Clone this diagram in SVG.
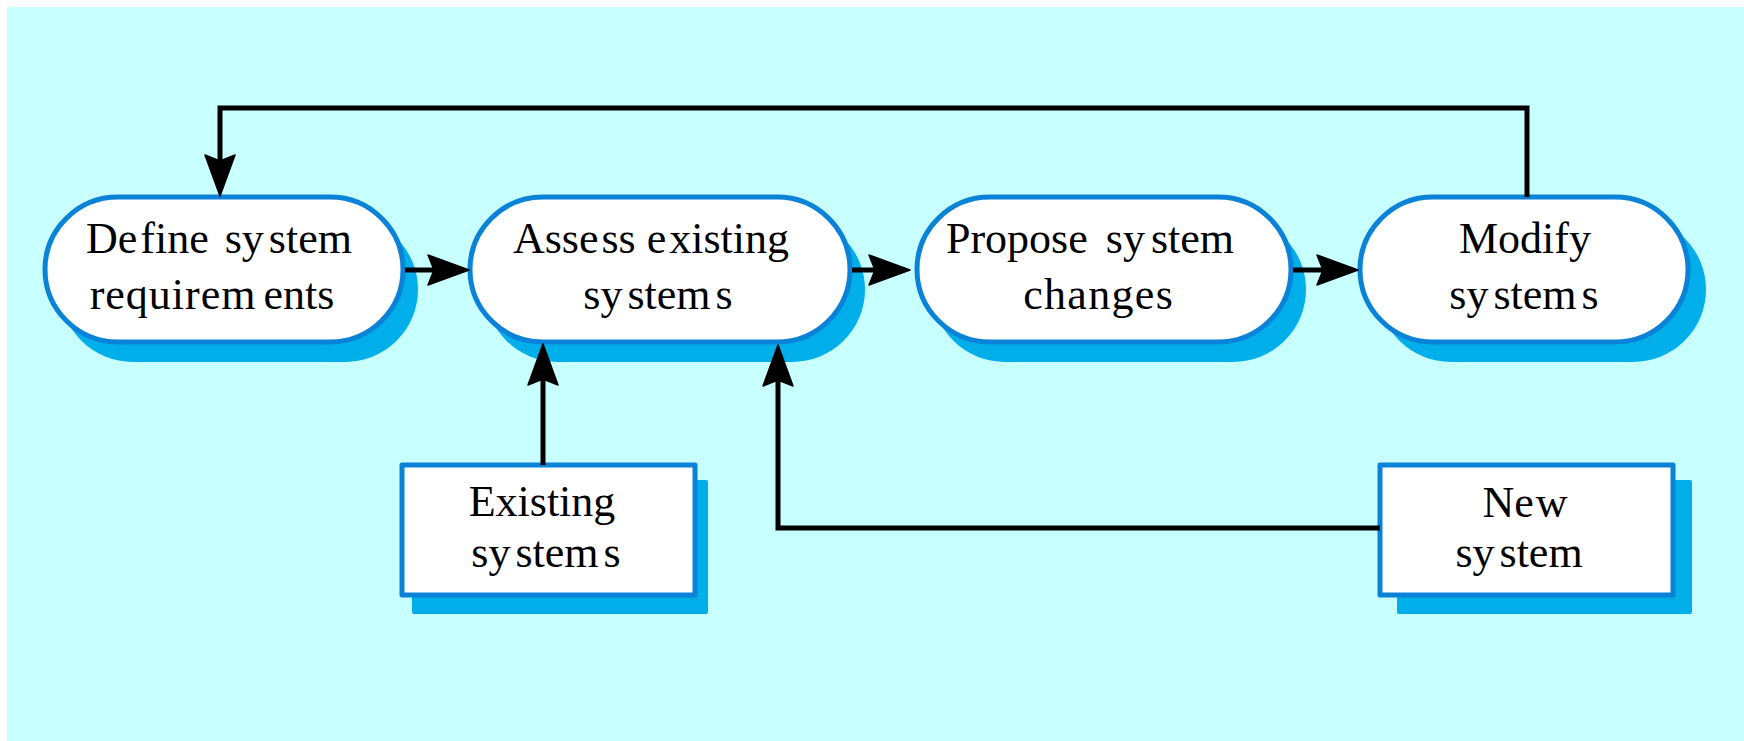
<svg xmlns="http://www.w3.org/2000/svg" width="1744" height="741" viewBox="0 0 1744 741">
  <style>
    .shadow { fill: #00AEEA; stroke: none; }
    .box { fill: #FFFFFF; stroke: #0A82D8; stroke-width: 5; stroke-linejoin: round; }
    .label { font-family: "Liberation Serif", "Times New Roman", serif; font-size: 44px; fill: #000000; text-anchor: middle; }
    .link { fill: none; stroke: #000000; stroke-width: 5; stroke-linejoin: miter; }
  </style>
  <defs>
    <marker id="arrow" markerUnits="userSpaceOnUse" viewBox="-32 -18 48 36" refX="0" refY="0" markerWidth="48" markerHeight="36" orient="auto">
      <path d="M13,0 L-28,-15 L-22,0 L-28,15 Z" fill="#000000" stroke="#000000" stroke-width="1.5" stroke-linejoin="round"/>
    </marker>
  </defs>

  <!-- page background -->
  <rect x="0" y="0" width="1744" height="741" fill="#FFFFFF"/>
  <rect x="7" y="7" width="1737" height="734" fill="#C8FFFF"/>

  <!-- activity: Define system requirements -->
  <g id="define">
    <path class="shadow" transform="translate(60,217)" d="M73,0 H285 A73,72.5 0 0 1 285,145 H73 A73,72.5 0 0 1 73,0 Z"/>
    <path class="box" transform="translate(45,197)" d="M73,0 H285 A73,72.5 0 0 1 285,145 H73 A73,72.5 0 0 1 73,0 Z"/>
    <text class="label" x="219" y="253" dx="0 0 3 0 0 0 0 5 0 5 0 0 0">Define system</text>
    <text class="label" x="212" y="309" dx="0 1 1 1 1 1 1 1 8 0 0 0">requirements</text>
  </g>

  <!-- activity: Assess existing systems -->
  <g id="assess">
    <path class="shadow" transform="translate(485,217)" d="M73,0 H307 A73,72.5 0 0 1 307,145 H73 A73,72.5 0 0 1 73,0 Z"/>
    <path class="box" transform="translate(470,197)" d="M73,0 H307 A73,72.5 0 0 1 307,145 H73 A73,72.5 0 0 1 73,0 Z"/>
    <text class="label" x="651" y="253" dx="0 0 0 0 3 0 0 0 3 0 0 0 0 0 0">Assess existing</text>
    <text class="label" x="658" y="309" dx="0 0 5 0 0 0 5">systems</text>
  </g>

  <!-- activity: Propose system changes -->
  <g id="propose">
    <path class="shadow" transform="translate(932,217)" d="M73,0 H301 A73,72.5 0 0 1 301,145 H73 A73,72.5 0 0 1 73,0 Z"/>
    <path class="box" transform="translate(917,197)" d="M73,0 H301 A73,72.5 0 0 1 301,145 H73 A73,72.5 0 0 1 73,0 Z"/>
    <text class="label" x="1090" y="253" dx="0 0 0 0 0 0 0 0 7 0 6 0 0 0">Propose system</text>
    <text class="label" x="1098" y="309" dx="0 1.3 1.3 1.3 1.3 1.3 1.3">changes</text>
  </g>

  <!-- activity: Modify systems -->
  <g id="modify">
    <path class="shadow" transform="translate(1378,217)" d="M73,0 H255 A73,72.5 0 0 1 255,145 H73 A73,72.5 0 0 1 73,0 Z"/>
    <path class="box" transform="translate(1360,197)" d="M73,0 H255 A73,72.5 0 0 1 255,145 H73 A73,72.5 0 0 1 73,0 Z"/>
    <text class="label" x="1525" y="253">Modify</text>
    <text class="label" x="1524" y="309" dx="0 0 5 0 0 0 5">systems</text>
  </g>

  <!-- data: Existing systems -->
  <g id="existing">
    <rect class="shadow" x="412" y="480" width="296" height="134" rx="2"/>
    <rect class="box" x="402" y="465" width="293" height="130"/>
    <text class="label" x="542" y="516">Existing</text>
    <text class="label" x="546" y="567" dx="0 0 5 0 0 0 5">systems</text>
  </g>

  <!-- data: New system -->
  <g id="new-system">
    <rect class="shadow" x="1397" y="480" width="295" height="134" rx="2"/>
    <rect class="box" x="1380" y="465" width="293" height="130"/>
    <text class="label" x="1525" y="517" dx="0 0 2">New</text>
    <text class="label" x="1519" y="567" dx="0 0 5 0 0 0">system</text>
  </g>

  <!-- flows between activities and data -->
  <g id="connectors">
    <path class="link" d="M405,270 H456" marker-end="url(#arrow)"/>
    <path class="link" d="M852,270 H897" marker-end="url(#arrow)"/>
    <path class="link" d="M1293,270 H1345" marker-end="url(#arrow)"/>
    <path class="link" d="M543,465 V357" marker-end="url(#arrow)"/>
    <path class="link" d="M1380,528 H778 V358" marker-end="url(#arrow)"/>
    <path class="link" d="M1527,197 V108 H220 V183" marker-end="url(#arrow)"/>
  </g>
</svg>
